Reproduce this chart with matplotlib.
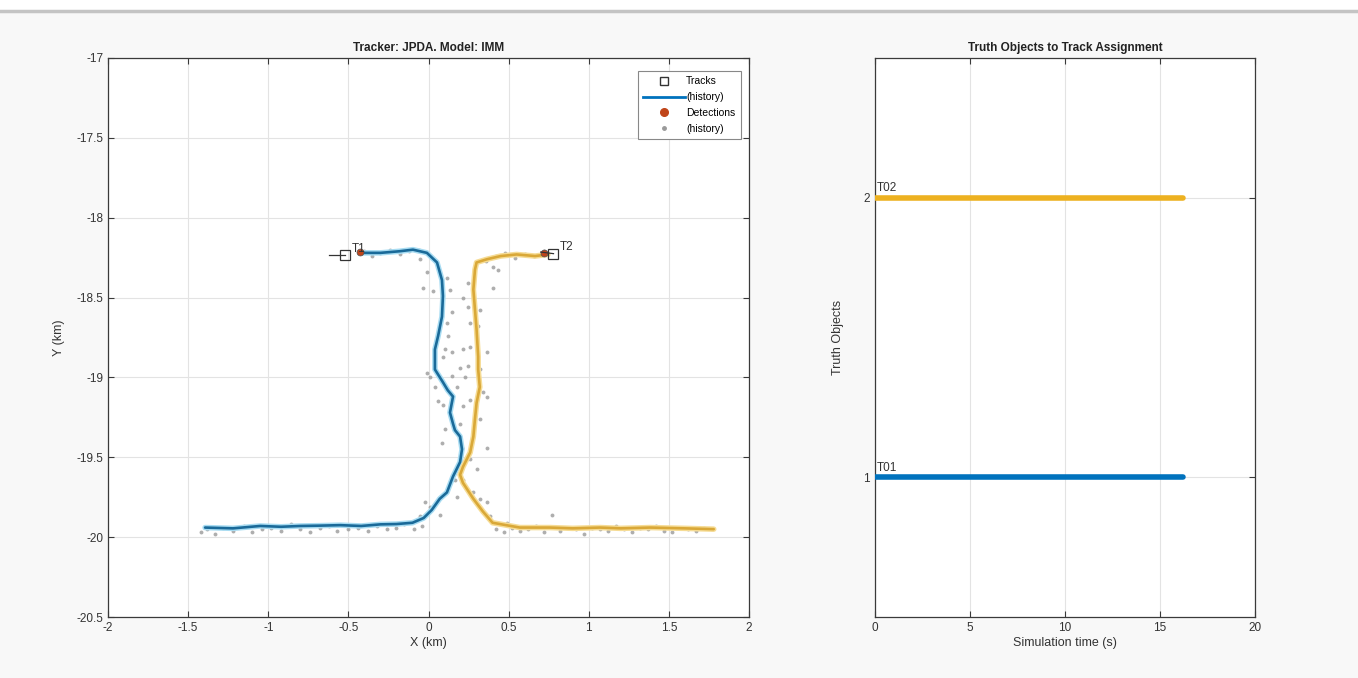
import numpy as np
import matplotlib
matplotlib.use("Agg")
import matplotlib.pyplot as plt
from matplotlib.lines import Line2D
from matplotlib.patches import Rectangle

plt.rcParams['font.family'] = ['Liberation Sans', 'DejaVu Sans']

# ---------------- data ----------------
# Track 1 (blue) history, km
t1_x = [-1.394, -1.22, -1.05, -0.92, -0.80, -0.68, -0.55, -0.42, -0.30, -0.20, -0.10, -0.03,
        0.02, 0.07, 0.115, 0.153, 0.197, 0.209, 0.197, 0.165, 0.153, 0.134, 0.153, 0.12,
        0.09, 0.04, 0.04, 0.04, 0.06, 0.084, 0.09, 0.084, 0.053, -0.01, -0.097, -0.18,
        -0.30, -0.43]
t1_y = [-19.94, -19.945, -19.93, -19.935, -19.93, -19.928, -19.925, -19.93, -19.92, -19.918,
        -19.91, -19.88, -19.83, -19.76, -19.72, -19.62, -19.53, -19.45, -19.37, -19.33,
        -19.29, -19.22, -19.12, -19.08, -19.03, -18.95, -18.91, -18.825, -18.74, -18.62,
        -18.49, -18.39, -18.28, -18.22, -18.20, -18.21, -18.22, -18.22]
# Track 2 (yellow) history, km
t2_x = [1.78, 1.60, 1.383, 1.20, 1.07, 0.90, 0.758, 0.57, 0.40, 0.34, 0.28, 0.215, 0.197,
        0.215, 0.26, 0.28, 0.29, 0.30, 0.32, 0.31, 0.31, 0.30, 0.29, 0.28, 0.29, 0.30,
        0.365, 0.45, 0.55, 0.665, 0.745]
t2_y = [-19.95, -19.945, -19.94, -19.945, -19.94, -19.945, -19.94, -19.94, -19.91, -19.84,
        -19.76, -19.66, -19.61, -19.56, -19.47, -19.37, -19.26, -19.16, -19.06, -18.95,
        -18.87, -18.70, -18.575, -18.45, -18.325, -18.28, -18.26, -18.24, -18.23, -18.24,
        -18.23]

# Current track positions and labels
trk_x = [-0.52, 0.78]
trk_y = [-18.235, -18.225]
trk_labels = ['T1', 'T2']
# Current detections
det_x = [-0.43, 0.72]
det_y = [-18.215, -18.22]

# Detection history, km
hist_x = [-1.42, -1.38, -1.33, -1.28, -1.22, -1.15, -1.10, -1.04, -0.98, -0.92, -0.86, -0.80,
          -0.74, -0.68, -0.62, -0.57, -0.50, -0.44, -0.38, -0.32, -0.26, -0.20, -0.15, -0.09,
          -0.04,
          0.42, 0.47, 0.52, 0.57, 0.62, 0.67, 0.72, 0.77, 0.82, 0.87, 0.92, 0.97, 1.02, 1.07,
          1.12, 1.17, 1.22, 1.27, 1.32, 1.37, 1.42, 1.47, 1.52, 1.57, 1.62, 1.67, 1.72, 1.77,
          -0.40, -0.35, -0.30, -0.24, -0.18, -0.12, -0.06,
          0.36, 0.42, 0.48, 0.54, 0.60, 0.66, 0.72,
          -0.034, -0.009, -0.053, 0.115, 0.134, 0.028, 0.147, 0.115, 0.122, 0.103, 0.147,
          0.09, 0.197, -0.009, 0.009, 0.147, 0.178, 0.04, 0.059, 0.09, 0.215, 0.197, 0.103,
          0.084, 0.209, 0.197, 0.165, 0.178, -0.022, 0.009, 0.072, -0.053,
          0.40, 0.434, 0.40, 0.246, 0.215, 0.246, 0.32, 0.259, 0.309, 0.215, 0.259, 0.365,
          0.246, 0.32, 0.228, 0.34, 0.259, 0.365, 0.32, 0.278, 0.365, 0.259, 0.303, 0.215,
          0.278, 0.32, 0.365, 0.34, 0.384, 0.49]
hist_y = [-19.97, -19.95, -19.98, -19.94, -19.96, -19.93, -19.97, -19.95, -19.94, -19.96,
          -19.92, -19.95, -19.97, -19.94, -19.93, -19.96, -19.95, -19.94, -19.96, -19.93,
          -19.95, -19.94, -19.92, -19.95, -19.93,
          -19.95, -19.97, -19.94, -19.96, -19.95, -19.93, -19.97, -19.86, -19.96, -19.94,
          -19.95, -19.98, -19.94, -19.95, -19.96, -19.93, -19.95, -19.97, -19.94, -19.95,
          -19.93, -19.96, -19.97, -19.94, -19.95, -19.96, -19.94, -19.95,
          -18.21, -18.24, -18.22, -18.20, -18.23, -18.21, -18.20,
          -18.27, -18.24, -18.22, -18.25, -18.23, -18.24, -18.21,
          -18.44, -18.34, -18.26, -18.375, -18.45, -18.46, -18.59, -18.66, -18.74, -18.825,
          -18.84, -18.875, -18.94, -18.97, -19.0, -18.99, -19.06, -19.06, -19.15, -19.17,
          -19.18, -19.29, -19.325, -19.41, -19.44, -19.56, -19.64, -19.75, -19.78, -19.81,
          -19.86, -19.87,
          -18.31, -18.325, -18.44, -18.41, -18.5, -18.56, -18.575, -18.66, -18.68, -18.825,
          -18.81, -18.84, -18.93, -18.95, -19.0, -19.09, -19.14, -19.12, -19.26, -19.37,
          -19.44, -19.51, -19.575, -19.64, -19.72, -19.76, -19.78, -19.84, -19.87, -19.91]

# Right panel: truth-to-track assignment
truth_ids = [1, 2]
truth_labels = ['T01', 'T02']
assign_start = [0.0, 0.0]
assign_end = [16.2, 16.2]

x_ticks = [-2, -1.5, -1, -0.5, 0, 0.5, 1, 1.5, 2]
y_ticks = [-17, -17.5, -18, -18.5, -19, -19.5, -20, -20.5]
t_ticks = [0, 5, 10, 15, 20]

BLUE = '#0072BD'
YELLOW = '#EDB120'
ORANGE = '#C0451A'
GREY = '#9a9a9a'
AXC = '#3a3a3a'

# ---------------- figure ----------------
W, H = 1358, 678
fig = plt.figure(figsize=(W / 100, H / 100), dpi=100, facecolor='#f8f8f8')
fig.add_artist(Rectangle((0, 1 - 10 / H), 1, 10 / H, transform=fig.transFigure,
                         facecolor='white', edgecolor='none'))
fig.add_artist(Line2D([0, 1], [1 - 11 / H, 1 - 11 / H], transform=fig.transFigure,
                      color='#c4c4c4', lw=2.5))

def style(ax):
    for s in ax.spines.values():
        s.set_color(AXC)
        s.set_linewidth(0.9)
    ax.tick_params(direction='in', top=True, right=True, colors=AXC, labelsize=8.5,
                   length=4, width=0.8, labelcolor='#333333')
    ax.grid(True, color='#e3e3e3', lw=0.8)
    ax.set_axisbelow(True)
    ax.set_facecolor('white')

# Left axes
ax = fig.add_axes([108 / W, 1 - 617 / H, (749 - 108) / W, (617 - 58) / H])
style(ax)
ax.set_xlim(-2, 2)
ax.set_ylim(-20.5, -17)
ax.set_xticks(x_ticks)
ax.set_xticklabels([f'{v:g}' for v in x_ticks])
ax.set_yticks(y_ticks)
ax.set_yticklabels([f'{v:g}' for v in y_ticks])

ax.plot(hist_x, hist_y, 'o', ms=2.8, color=GREY, alpha=0.8, mec='none', zorder=2)
ax.plot(t1_x, t1_y, '-', color='#a8dcf2', lw=4, solid_capstyle='round', zorder=3)
ax.plot(t1_x, t1_y, '-', color='#1a6a99', lw=1.9, solid_capstyle='round', zorder=4)
ax.plot(t2_x, t2_y, '-', color='#f6dc95', lw=4, solid_capstyle='round', zorder=3)
ax.plot(t2_x, t2_y, '-', color='#d9a838', lw=1.9, solid_capstyle='round', zorder=4)
ax.plot(det_x, det_y, 'o', ms=5, color=ORANGE, mec='#555555', mew=0.5, zorder=5)
ax.plot(trk_x, trk_y, 's', ms=6.5, mfc='none', mec='#333333', mew=0.9, zorder=6)
# short velocity lines
ax.plot([trk_x[0] - 0.1, trk_x[0]], [trk_y[0], trk_y[0]], color='#333333', lw=0.9, zorder=6)
ax.plot([trk_x[1] - 0.08, trk_x[1]], [trk_y[1] + 0.01, trk_y[1]], color='#333333', lw=0.9, zorder=6)
for xx, yy, lab in zip(trk_x, trk_y, trk_labels):
    ax.text(xx + 0.04, yy + 0.02, lab, fontsize=8.5, color='#333333', zorder=7)

ax.set_title('Tracker: JPDA. Model: IMM', fontsize=8.5, fontweight='bold', color='#222222', pad=5)
ax.set_xlabel('X (km)', fontsize=9, color='#333333', labelpad=2)
ax.set_ylabel('Y (km)', fontsize=9, color='#333333', labelpad=8)

handles = [
    Line2D([], [], ls='none', marker='s', mfc='none', mec='#333333', ms=6),
    Line2D([], [], color=BLUE, lw=2),
    Line2D([], [], ls='none', marker='o', color=ORANGE, ms=5.5),
    Line2D([], [], ls='none', marker='o', color=GREY, ms=2.5),
]
leg = ax.legend(handles, ['Tracks', '(history)', 'Detections', '(history)'],
                loc='upper right', bbox_to_anchor=(0.99, 0.98), fontsize=7.5,
                frameon=True, fancybox=False, edgecolor='#888888', framealpha=1,
                handlelength=4.0, borderpad=0.5, labelspacing=0.55, handletextpad=0.1,
                borderaxespad=0.2)
leg.get_frame().set_linewidth(0.8)

# Right axes
ax2 = fig.add_axes([875 / W, 1 - 617 / H, (1255 - 875) / W, (617 - 58) / H])
style(ax2)
ax2.set_xlim(0, 20)
ax2.set_ylim(0.5, 2.5)
ax2.set_xticks(t_ticks)
ax2.set_yticks(truth_ids)
colors = [BLUE, YELLOW]
for yy, x0, x1, c, lab in zip(truth_ids, assign_start, assign_end, colors, truth_labels):
    ax2.plot([x0, x1], [yy, yy], '-', color=c, lw=4, solid_capstyle='round', zorder=3)
    ax2.text(x0 + 0.1, yy + 0.012, lab, fontsize=8.5, color='#333333', va='bottom', zorder=4)
ax2.set_title('Truth Objects to Track Assignment', fontsize=8.5, fontweight='bold',
              color='#222222', pad=5)
ax2.set_xlabel('Simulation time (s)', fontsize=9, color='#333333', labelpad=2)
ax2.set_ylabel('Truth Objects', fontsize=9, color='#333333', labelpad=14)

fig.savefig('out.png', dpi=100, facecolor=fig.get_facecolor())
